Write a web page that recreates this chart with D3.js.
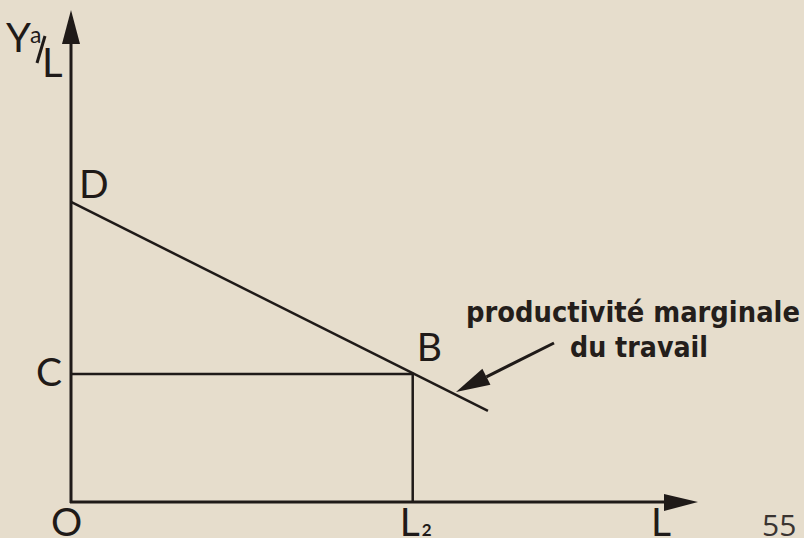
<!DOCTYPE html>
<html lang="fr">
    <head>
        <meta charset="UTF-8" />
        <title>Productivité marginale du travail</title>
        <style>
            body { margin: 0; background: #e6ddcc; }
            svg { display: block; }
            .lbl { font-family: Lato, "DejaVu Sans", sans-serif; fill: #1f1a18; }
            .note { font-family: "DejaVu Sans", sans-serif; font-weight: 700; fill: #241e1b; }
            .page { font-family: "Open Sans", sans-serif; fill: #3a3431; }
        </style>
    </head>
    <body>
        <div class="chart"></div>

        <script src="https://d3js.org/d3.v7.min.js"></script>

        <script>
            // données (unités arbitraires, 0..100 sur chaque axe) =================
            const axisEnds = { x: 100, y: 100 }
            const demandLine = [{ x: 0, y: 61 }, { x: 66.5, y: 18.5 }]   // D -> fin de la droite
            const pointB = { x: 54.5, y: 26 }                             // B = (L2, C)
            const pointLabels = ['O', 'C', 'D', 'B', 'L']
            const noteLines = ['productivité marginale', 'du travail']
            const pageNumber = '55'

            const width = 804
            const height = 538
            const ink = '#1f1a18'

            const svg = d3.select('.chart')
              .append('svg')
              .attr('width', width)
              .attr('height', height)

            svg.append('rect').attr('width', width).attr('height', height).attr('fill', '#e6ddcc')

            // échelles
            const xScale = d3.scaleLinear().domain([0, 100]).range([71, 698])
            const yScale = d3.scaleLinear().domain([0, 100]).range([502, 10])

            const x0 = xScale(0), y0 = yScale(0)

            // axes avec flèches ==========================================
            svg.append('line')
              .attr('x1', x0).attr('y1', y0 + 1)
              .attr('x2', x0).attr('y2', yScale(axisEnds.y) + 20)
              .attr('stroke', ink).attr('stroke-width', 3)
            svg.append('path')
              .attr('d', `M${x0},${yScale(axisEnds.y)} L${x0 - 9},${yScale(axisEnds.y) + 34} L${x0 + 9},${yScale(axisEnds.y) + 34} Z`)
              .attr('fill', ink)

            svg.append('line')
              .attr('x1', x0 - 1).attr('y1', y0)
              .attr('x2', xScale(axisEnds.x) - 20).attr('y2', y0)
              .attr('stroke', ink).attr('stroke-width', 3)
            svg.append('path')
              .attr('d', `M${xScale(axisEnds.x)},${y0} L${xScale(axisEnds.x) - 34},${y0 - 8} L${xScale(axisEnds.x) - 34},${y0 + 9} Z`)
              .attr('fill', ink)

            // droite de productivité marginale
            const line = d3.line().x(d => xScale(d.x)).y(d => yScale(d.y))
            svg.append('path')
              .attr('d', line(demandLine))
              .attr('fill', 'none')
              .attr('stroke', ink).attr('stroke-width', 2.5)

            // rectangle C-B-L2
            svg.append('path')
              .attr('d', line([{ x: 0, y: pointB.y }, pointB, { x: pointB.x, y: 0 }]))
              .attr('fill', 'none')
              .attr('stroke', ink).attr('stroke-width', 2.5)

            // étiquettes des points
            const labelPos = {
              O: [xScale(0) - 20, y0 + 34],
              C: [xScale(0) - 35, yScale(pointB.y) + 12],
              D: [xScale(0) + 8, yScale(demandLine[0].y) - 4],
              B: [xScale(pointB.x) + 4, yScale(pointB.y) - 13],
              L: [xScale(axisEnds.x) - 47, y0 + 34]
            }
            pointLabels.forEach(k => {
              svg.append('text').attr('class', 'lbl')
                .attr('x', labelPos[k][0]).attr('y', labelPos[k][1])
                .attr('font-size', 39)
                .text(k)
            })

            // L2
            const l2 = svg.append('text').attr('class', 'lbl')
              .attr('x', xScale(pointB.x) - 13).attr('y', y0 + 34)
              .attr('font-size', 39)
            l2.append('tspan').text('L')
            l2.append('tspan').attr('font-size', 17).attr('font-weight', 700).attr('dx', 2).text('2')

            // titre de l'axe Y : Y a/L
            const yt = svg.append('g')
            yt.append('text').attr('class', 'lbl').attr('x', 6).attr('y', 52).attr('font-size', 40).text('Y')
            yt.append('text').attr('class', 'lbl').attr('x', 30).attr('y', 43).attr('font-size', 23).text('a')
            yt.append('line').attr('x1', 45).attr('y1', 36).attr('x2', 37).attr('y2', 63)
              .attr('stroke', ink).attr('stroke-width', 3)
            yt.append('text').attr('class', 'lbl').attr('x', 42).attr('y', 77).attr('font-size', 40).text('L')

            // annotation
            svg.append('text').attr('class', 'note')
              .attr('x', 466).attr('y', 322)
              .attr('font-size', 29)
              .attr('textLength', 334).attr('lengthAdjust', 'spacingAndGlyphs')
              .text(noteLines[0])
            svg.append('text').attr('class', 'note')
              .attr('x', 570).attr('y', 357)
              .attr('font-size', 29)
              .attr('textLength', 138).attr('lengthAdjust', 'spacingAndGlyphs')
              .text(noteLines[1])

            // flèche vers la droite
            const tip = [456, 392], tail = [554, 343]
            const ang = Math.atan2(tail[1] - tip[1], tail[0] - tip[0])
            const hl = 34, hw = 9
            const bx = tip[0] + hl * Math.cos(ang), by = tip[1] + hl * Math.sin(ang)
            svg.append('line')
              .attr('x1', tail[0]).attr('y1', tail[1]).attr('x2', bx).attr('y2', by)
              .attr('stroke', ink).attr('stroke-width', 3)
            svg.append('path')
              .attr('d', `M${tip[0]},${tip[1]} L${bx - hw * Math.sin(ang)},${by + hw * Math.cos(ang)} L${bx + hw * Math.sin(ang)},${by - hw * Math.cos(ang)} Z`)
              .attr('fill', ink)

            // numéro de page
            svg.append('text').attr('class', 'page')
              .attr('x', 762).attr('y', 536)
              .attr('font-size', 30)
              .text(pageNumber)
        </script>
    </body>
</html>
